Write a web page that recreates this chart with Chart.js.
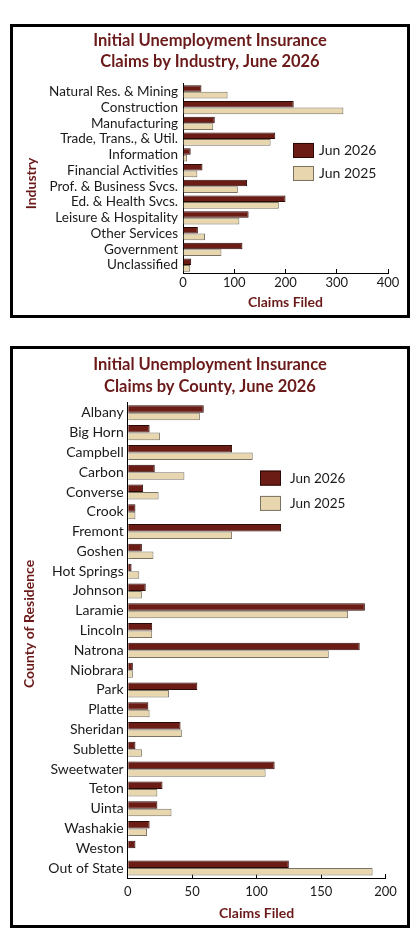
<!DOCTYPE html>
<html><head><meta charset="utf-8">
<script src="https://cdn.jsdelivr.net/npm/chart.js@4"></script>
<style>
html,body{margin:0;padding:0;background:#fff;}
.box{position:absolute;left:10px;width:394px;border:3px solid #000;background:#fff;}
#b1{top:24px;height:288px;}
#b2{top:346px;height:576px;}
canvas{display:block;}
</style></head><body>
<div class="box" id="b1"><canvas id="c1" width="394" height="288" style="width:394px;height:288px"></canvas></div>
<div class="box" id="b2"><canvas id="c2" width="394" height="576" style="width:394px;height:576px"></canvas></div>
<script>
const industries = ['Natural Res. & Mining','Construction','Manufacturing','Trade, Trans., & Util.','Information','Financial Activities','Prof. & Business Svcs.','Ed. & Health Svcs.','Leisure & Hospitality','Other Services','Government','Unclassified'];
const industry2026 = [36,216,62,180,15,38,125,200,128,29,116,16];
const industry2025 = [87,313,59,171,8,28,107,187,110,43,75,14];

const counties = ['Albany','Big Horn','Campbell','Carbon','Converse','Crook','Fremont','Goshen','Hot Springs','Johnson','Laramie','Lincoln','Natrona','Niobrara','Park','Platte','Sheridan','Sublette','Sweetwater','Teton','Uinta','Washakie','Weston','Out of State'];
const county2026 = [59,17,81,21,12,6,119,11,3,14,184,19,180,4,54,16,41,6,114,27,23,17,6,125];
const county2025 = [56,25,97,44,24,6,81,20,9,11,171,19,156,4,32,17,42,11,107,23,34,15,0,190];

const seriesLabels = ['Jun 2026','Jun 2025'];
const industryTitle = ['Initial Unemployment Insurance','Claims by Industry, June 2026'];
const countyTitle = ['Initial Unemployment Insurance','Claims by County, June 2026'];

const TITLE = '#6b1a1a', TEXT = '#1a1a1a';
const C26 = '#6b1c14', B26 = '#2b0a06', C25 = '#e8d7ae', B25 = '#7a7262';

const overlay = {
  id: 'overlay',
  afterLayout(chart) {
    const t = chart.titleBlock;
    if (t) { t.left = 0; t.right = chart.width; t.width = chart.width; }
  },
  afterDraw(chart, args, o) {
    const {ctx, chartArea: ca} = chart;
    ctx.save();
    ctx.translate(o.yTitleX, (ca.top + ca.bottom) / 2 + o.yTitleDy);
    ctx.rotate(-Math.PI / 2);
    ctx.font = 'bold 14px Lato';
    ctx.fillStyle = TITLE; ctx.textAlign = 'center'; ctx.textBaseline = 'middle';
    ctx.fillText(o.yTitle, 0, 0);
    ctx.restore();
    ctx.save();
    chart.data.datasets.forEach((ds, i) => {
      const x = ca.left + o.lx, y = ca.top + o.ly + i * o.lstep;
      ctx.fillStyle = ds.backgroundColor; ctx.fillRect(x, y, o.bw, o.bh);
      ctx.strokeStyle = ds.borderColor; ctx.lineWidth = 1;
      ctx.strokeRect(x + 0.5, y + 0.5, o.bw - 1, o.bh - 1);
      ctx.fillStyle = TEXT; ctx.font = o.lfont; ctx.textAlign = 'left'; ctx.textBaseline = 'middle';
      ctx.fillText(ds.label, x + o.bw + o.gap, y + o.bh / 2 + 0.5);
    });
    ctx.restore();
  }
};

function makeChart(id, labels, a, b, title, o) {
  return new Chart(document.getElementById(id), {
    type: 'bar',
    data: {labels: labels, datasets: [
      {label: seriesLabels[0], data: a, backgroundColor: C26, borderColor: B26, borderWidth: 1, categoryPercentage: o.cat, barPercentage: 1},
      {label: seriesLabels[1], data: b, backgroundColor: C25, borderColor: B25, borderWidth: 1, categoryPercentage: o.cat, barPercentage: 1}
    ]},
    options: {
      indexAxis: 'y', responsive: false, animation: false, devicePixelRatio: 1,
      layout: {padding: {top: o.padTop, right: o.padRight, left: 0, bottom: 0}},
      plugins: {
        legend: {display: false}, tooltip: {enabled: false},
        title: {display: true, text: title, color: TITLE,
          font: {family: 'Lato', size: 16.5, weight: 'bold', lineHeight: 1.29},
          padding: {top: 0, bottom: o.titleGap}},
        overlay: o.overlay
      },
      scales: {
        x: {min: 0, max: o.max,
          ticks: {stepSize: o.step, color: TEXT, font: {family: 'Lato', size: 13}, padding: o.tickPad, maxRotation: 0},
          grid: {drawOnChartArea: false, drawTicks: true, tickLength: -4, color: '#000'},
          border: {display: true, color: '#000', width: 1},
          title: {display: true, text: 'Claims Filed', color: TITLE, font: {family: 'Lato', size: 14, weight: 'bold'}, padding: {top: 0, bottom: o.xTitlePad}},
          afterFit: s => { s.height = o.xH; }
        },
        y: {
          ticks: {color: TEXT, font: {family: 'Lato', size: o.labelSize}, padding: o.yPad, autoSkip: false},
          grid: {display: false, drawTicks: false},
          border: {display: true, color: '#000', width: 1},
          afterFit: s => { s.width = o.yW; }
        }
      }
    },
    plugins: [overlay]
  });
}

makeChart('c1', industries, industry2026, industry2025, industryTitle, {
  padTop: 3, titleGap: 11.4, padRight: 19, cat: 0.83, max: 400, step: 100,
  xH: 42, tickPad: 5.8, xTitlePad: 4.3, yW: 170, yPad: 5, labelSize: 13.5,
  overlay: {yTitle: 'Industry', yTitleX: 18.5, yTitleDy: 5, lx: 110, ly: 59, lstep: 23, bw: 21, bh: 15, gap: 5, lfont: '14px Lato'}
});
makeChart('c2', counties, county2026, county2025, countyTitle, {
  padTop: 5.35, titleGap: 6, padRight: 18.7, cat: 0.76, max: 200, step: 50,
  xH: 47, tickPad: 10.2, xTitlePad: 3.3, yW: 114.7, yPad: 4, labelSize: 14,
  overlay: {yTitle: 'County of Residence', yTitleX: 16.3, yTitleDy: -16.5, lx: 132.3, ly: 67.7, lstep: 25.3, bw: 21, bh: 15, gap: 9, lfont: '13.5px Lato'}
});
</script>
</body></html>
